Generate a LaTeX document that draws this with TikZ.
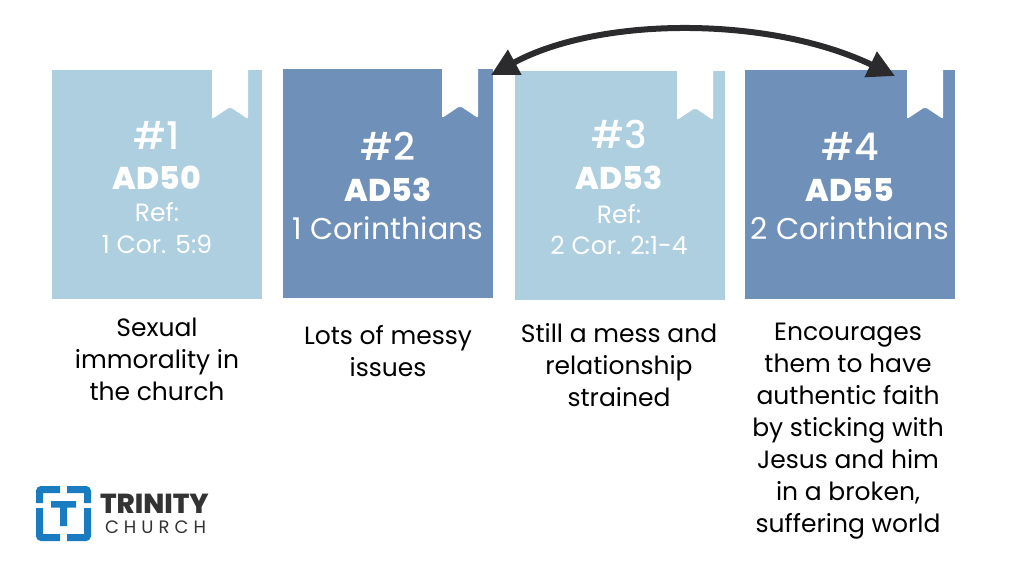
\documentclass[tikz,border=0pt]{standalone}
\usepackage{fontspec}
\setmainfont{Poppins}
\newfontfamily\heavyfont{Poppins ExtraBold}
\newfontfamily\midfont{Poppins Medium}
\usetikzlibrary{arrows.meta}
\definecolor{aecfe0}{HTML}{AECFE0}
\definecolor{ff6f90}{HTML}{6F90B9}
\definecolor{qq7cc0}{HTML}{1A7CC0}
\definecolor{uu3333}{HTML}{333333}
\definecolor{uu2b2b}{HTML}{2B2B2D}
\tikzset{
  every node/.style={inner sep=0pt,outer sep=0pt},
  lightbox/.style={fill=aecfe0,minimum width=210pt,minimum height=229pt},
  darkbox/.style={fill=ff6f90,minimum width=210pt,minimum height=229pt},
  numlabel/.style={anchor=base,text=white,font=\fontsize{38}{38}\midfont},
  yearlabel/.style={anchor=base,text=white,font=\fontsize{31.5}{31.5}\heavyfont},
  reflabel/.style={anchor=base,text=white,font=\fontsize{25}{25}\selectfont},
  namelabel/.style={anchor=base,text=white,font=\fontsize{30}{30}\selectfont},
  caption/.style={anchor=north,align=center,text=black,font=\fontsize{25}{32}\selectfont},
}
\newcommand{\bkmark}[2]{\fill[white,rounded corners=2pt] (#1,#2-4) -- (#1+36,#2-4) -- (#1+36,#2+49) -- (#1+18,#2+37) -- (#1,#2+49) -- cycle;}
\begin{document}
\begin{tikzpicture}[line cap=butt,line join=miter,x=1pt,y=-1pt]
\useasboundingbox (0,0) rectangle (1024,576);
\fill[white] (0,0) rectangle (1024,576);
% boxes
\node[lightbox] (boxa) at (157,184.5) {};
\node[darkbox] (boxb) at (388,183.5) {};
\node[lightbox] (boxc) at (619.5,185.5) {};
\node[darkbox] (boxd) at (850,184.5) {};
\bkmark{212}{70}
\bkmark{442}{69}
\bkmark{677}{71}
\bkmark{907}{70}
% box texts
\node[numlabel] (numa) at (157,149) {\#1};
\node[yearlabel] (yeara) at (157,189) {AD50};
\node[reflabel] (refa) at (157,221) {Ref:};
\node[reflabel] (cora) at (157,253) {1 Cor. 5:9};
\node[numlabel] (numb) at (388,160) {\#2};
\node[yearlabel] (yearb) at (388,201) {AD53};
\node[namelabel] (nameb) at (388,239) {1 Corinthians};
\node[numlabel] (numc) at (619,148) {\#3};
\node[yearlabel] (yearc) at (619,189) {AD53};
\node[reflabel] (refc) at (619,223) {Ref:};
\node[reflabel] (corc) at (619,254) {2 Cor. 2:1-4};
\node[numlabel] (numd) at (850,160) {\#4};
\node[yearlabel] (yeard) at (850,201) {AD55};
\node[namelabel] (named) at (850,239) {2 Corinthians};
% captions
\node[caption] (capa) at (157,318) {Sexual\\immorality in\\the church};
\node[caption] (capb) at (388,325) {Lots of messy\\issues};
\node[caption] (capc) at (619,323) {Still a mess and\\relationship\\strained};
\node[caption] (capd) at (848,323) {Encourages\\them to have\\authentic faith\\by sticking with\\Jesus and him\\in a broken,\\suffering world};
% arrow
\coordinate (arra) at (491,75);
\coordinate (arrb) at (895,76);
\draw[{Triangle[length=27pt,width=27pt]}-{Triangle[length=27pt,width=27pt]},line width=6pt,color=uu2b2b] (arra) .. controls (600,16) and (770,16) .. (arrb);
% logo
\begin{scope}[line width=7pt,color=qq7cc0,rounded corners=2pt]
\draw (39.5,503) -- (39.5,489.5) -- (60,489.5);
\draw (67,489.5) -- (87.5,489.5) -- (87.5,503);
\draw (39.5,508) -- (39.5,537.5) -- (60,537.5);
\draw (67,537.5) -- (87.5,537.5) -- (87.5,508);
\end{scope}
\fill[qq7cc0] (51,501) -- (76,501) -- (76,507.5) -- (67,507.5) -- (67,526) -- (60,526) -- (60,507.5) -- (51,507.5) -- cycle;
\node[anchor=base west,text=uu3333,font=\fontsize{27.5}{27.5}\heavyfont] (trinity) at (100,513) {TRINITY};
\node[anchor=base west,text=uu3333,font=\fontsize{18}{18}\selectfont] (church) at (105,533) {\addfontfeatures{LetterSpace=28}CHURCH};
\end{tikzpicture}
\end{document}
